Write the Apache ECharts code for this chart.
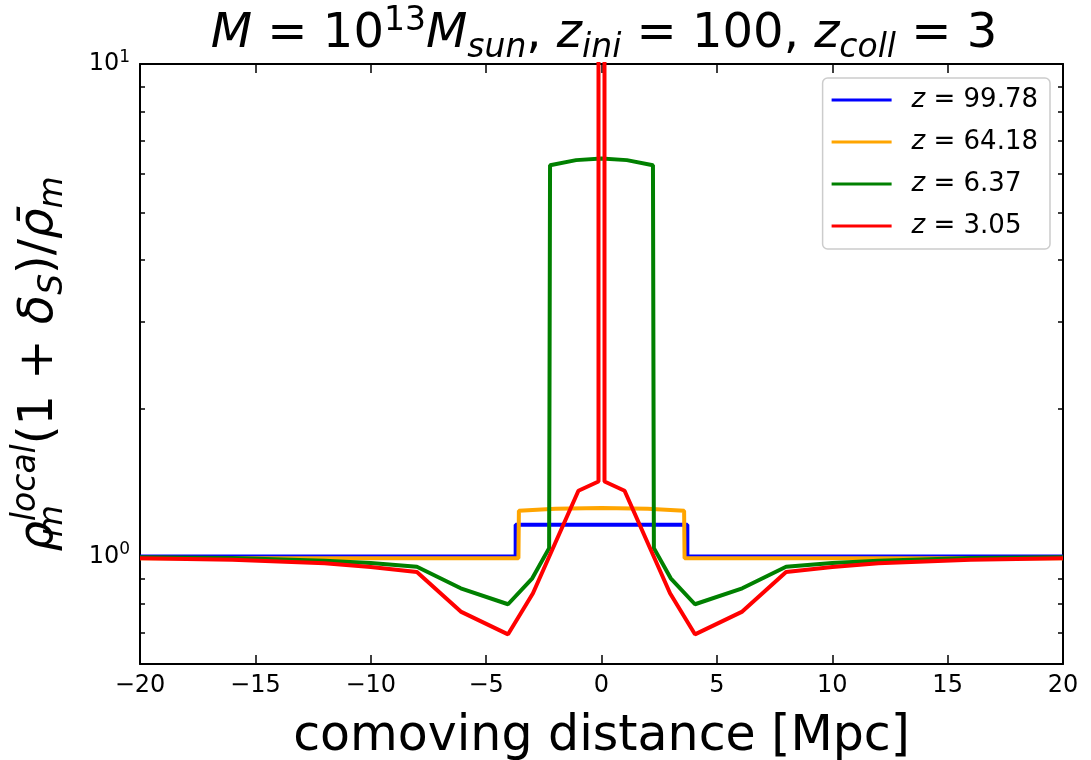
<!DOCTYPE html>
<html>
<head>
<meta charset="utf-8">
<script src="https://cdn.jsdelivr.net/npm/echarts@6/dist/echarts.min.js"></script>
<style>
html, body { margin: 0; padding: 0; background: #fff; }
#chart { width: 1091px; height: 760px; }
</style>
</head>
<body>
<div id="chart"></div>
<script>
// legend labels (z of each snapshot)
var zLabels = ['99.78', '64.18', '6.37', '3.05'];
var colors = ['#0000ff', '#ffa500', '#008000', '#ff0000'];

// comoving distance [Mpc] and rho_local/rho_mean for each snapshot
var blueX = [-20, -3.72, -3.72, 3.72, 3.72, 20];
var blueY = [1.0, 1.0, 1.16, 1.16, 1.0, 1.0];

var orangeX = [-20, -3.6, -3.58, -2, 0, 2, 3.58, 3.6, 20];
var orangeY = [0.992, 0.992, 1.239, 1.25, 1.254, 1.25, 1.239, 0.992, 0.992];

var greenX = [-20, -16, -12, -10, -8, -6.1, -4.05, -3.0, -2.27, -2.23, -1.1, 0, 1.1, 2.23, 2.27, 3.0, 4.05, 6.1, 8, 10, 12, 16, 20];
var greenY = [0.997, 0.993, 0.98, 0.97, 0.953, 0.862, 0.80, 0.903, 1.04, 6.23, 6.38, 6.43, 6.38, 6.23, 1.04, 0.903, 0.80, 0.862, 0.953, 0.97, 0.98, 0.993, 0.997];

var redX = [-20, -16, -12, -10, -8, -6.1, -4.05, -2.97, -1.0, -0.13, -0.13, 0.13, 0.13, 1.0, 2.97, 4.05, 6.1, 8, 10, 12, 16, 20];
var redY = [0.992, 0.985, 0.969, 0.952, 0.93, 0.773, 0.695, 0.842, 1.36, 1.42, 10000, 10000, 1.42, 1.36, 0.842, 0.695, 0.773, 0.93, 0.952, 0.969, 0.985, 0.992];

var yMajor = [1, 10];
var yMinor = [0.7, 0.8, 0.9, 2, 3, 4, 5, 6, 7, 8, 9];

function pairs(xs, ys) {
	var out = [];
	for (var i = 0; i < xs.length; i++) out.push([xs[i], ys[i]]);
	return out;
}

var seriesData = [pairs(blueX, blueY), pairs(orangeX, orangeY), pairs(greenX, greenY), pairs(redX, redY)];

var font = 'DejaVu Sans';
var big = 48;

function txt(size, italic, va, extra) {
	var s = { fontFamily: font, fontSize: size, fontWeight: 'normal', color: '#000' };
	if (italic) s.fontStyle = 'italic';
	if (va) { s.verticalAlign = va; s.lineHeight = size; } else { s.lineHeight = 60; }
	if (extra) for (var key in extra) s[key] = extra[key];
	return s;
}

var mathRich = {
	r: txt(big, false),
	i: txt(big, true),
	sup: txt(33, false, 'top'),
	isup: txt(33, true, 'top'),
	isub: txt(33, true, 'bottom'),
	isub0: txt(33, true, 'bottom', { width: 0 })
};

var chart = echarts.init(document.getElementById('chart'));

var series = [];
for (var k = 0; k < seriesData.length; k++) {
	series.push({
		name: 'z=' + zLabels[k],
		type: 'line',
		data: seriesData[k],
		showSymbol: false,
		symbol: 'none',
		clip: true,
		lineStyle: { color: colors[k], width: 4 },
		itemStyle: { color: colors[k] },
		z: 2 + k
	});
}

function yAxisBase(pos, values, len, withLine) {
	return {
		type: 'log',
		logBase: 10,
		position: pos,
		min: 0.605,
		max: 10,
		axisLine: { show: withLine, onZero: false, lineStyle: { color: '#000', width: 2 } },
		axisTick: { show: true, inside: true, length: len, customValues: values, lineStyle: { color: '#000', width: 1.5 } },
		axisLabel: { show: false },
		splitLine: { show: false },
		minorTick: { show: false }
	};
}

var yLeft = yAxisBase('left', yMajor, 9, true);
yLeft.axisLabel = {
	show: true,
	customValues: yMajor,
	margin: 10,
	formatter: function (v) {
		return '{b|10}{s|' + Math.round(Math.log10(v)) + '}';
	},
	rich: {
		b: { fontFamily: font, fontSize: 24, lineHeight: 30, color: '#000' },
		s: { fontFamily: font, fontSize: 17, lineHeight: 17, verticalAlign: 'top', color: '#000' }
	}
};
yLeft.name = '{i|\u03c1}{isub0|m}{isup|local}{r|(1 + }{i|\u03b4}{isub|S}{r|)/}{i|\u03c1\u0304}{isub|m}';
yLeft.nameLocation = 'middle';
yLeft.nameRotate = 90;
yLeft.nameGap = 70;
yLeft.nameTextStyle = { rich: mathRich };

var option = {
	animation: false,
	backgroundColor: '#fff',
	title: {
		text: '{i|M}{r| = 10}{sup|13}{i|M}{isub|sun}{r|, }{i|z}{isub|ini}{r| = 100, }{i|z}{isub|coll}{r| = 3}',
		left: 599,
		textAlign: 'center',
		top: 0,
		textStyle: { fontWeight: 'normal', rich: mathRich }
	},
	legend: {
		orient: 'vertical',
		right: 41,
		top: 78,
		icon: 'rect',
		itemWidth: 60,
		itemHeight: 3,
		itemGap: 16,
		padding: [9, 12, 10, 9],
		borderColor: '#cccccc',
		borderWidth: 1.5,
		borderRadius: 5,
		backgroundColor: 'rgba(255,255,255,0.8)',
		data: series.map(function (s) { return s.name; }),
		formatter: function (name) {
			return '{g|}{i|z}{r| = ' + name.slice(2) + '}';
		},
		textStyle: {
			rich: {
				g: { width: 15 },
				i: { fontFamily: font, fontStyle: 'italic', fontSize: 26, lineHeight: 30, color: '#000' },
				r: { fontFamily: font, fontSize: 26, lineHeight: 30, color: '#000' }
			}
		}
	},
	grid: { left: 140, right: 28, top: 64, bottom: 96, containLabel: false, outerBoundsMode: 'none' },
	xAxis: [{
		type: 'value',
		position: 'bottom',
		min: -20,
		max: 20,
		interval: 5,
		axisLine: { onZero: false, lineStyle: { color: '#000', width: 2 } },
		axisTick: { inside: true, length: 9, lineStyle: { color: '#000', width: 1.5 } },
		axisLabel: {
			margin: 10,
			fontFamily: font,
			fontSize: 24,
			color: '#000',
			formatter: function (v) { return String(v).replace('-', '\u2212'); }
		},
		splitLine: { show: false },
		name: 'comoving distance [Mpc]',
		nameLocation: 'middle',
		nameGap: 49,
		nameTextStyle: { fontFamily: font, fontSize: 49, color: '#000' }
	}, {
		type: 'value',
		position: 'top',
		min: -20,
		max: 20,
		interval: 5,
		axisLine: { onZero: false, lineStyle: { color: '#000', width: 2 } },
		axisTick: { inside: true, length: 9, lineStyle: { color: '#000', width: 1.5 } },
		axisLabel: { show: false },
		splitLine: { show: false }
	}],
	yAxis: [
		yLeft,
		yAxisBase('left', yMinor, 5, false),
		yAxisBase('right', yMajor, 9, true),
		yAxisBase('right', yMinor, 5, false)
	],
	series: series
};

chart.setOption(option);
</script>
</body>
</html>
